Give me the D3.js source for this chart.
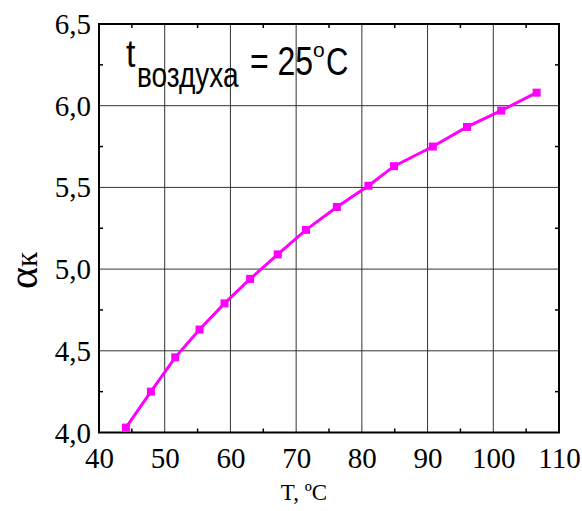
<!DOCTYPE html>
<html>
<head>
<meta charset="utf-8">
<script src="https://cdn.jsdelivr.net/npm/d3@7"></script>
<style>
  body { margin: 0; background: #fff; }
  svg { display: block; }
  .serif { font-family: "Liberation Serif", "Times New Roman", "DejaVu Serif", serif; }
  .sans { font-family: "Liberation Sans", Arial, sans-serif; }
</style>
</head>
<body>
<svg id="chart" width="582" height="511"></svg>
<script>
// temperature T, oC and heat transfer coefficient alpha_k
var temps  = [44.1, 47.9, 51.6, 55.3, 59.1, 63.0, 67.2, 71.5, 76.2, 81.0, 84.9, 90.8, 96.0, 101.2, 106.6];
var alphas = [4.03, 4.25, 4.46, 4.63, 4.79, 4.94, 5.09, 5.24, 5.38, 5.51, 5.63, 5.75, 5.87, 5.97, 6.08];

var xTicks = [40, 50, 60, 70, 80, 90, 100, 110];
var yTicks = [4.0, 4.5, 5.0, 5.5, 6.0, 6.5];
var xMinor = [45, 55, 65, 75, 85, 95, 105];
var yMinor = [4.25, 4.75, 5.25, 5.75, 6.25];

var svg = d3.select("#chart");
var pl = 99, pr = 559, pt = 24, pb = 432.5;

var x = d3.scaleLinear().domain([40, 110]).range([pl, pr]);
var y = d3.scaleLinear().domain([4.0, 6.5]).range([pb, pt]);

var fmtY = function(d) { return d3.format(".1f")(d).replace(".", ","); };

// grid
var grid = svg.append("g").attr("stroke", "#333").attr("stroke-width", 1);
grid.selectAll(".gx").data(xTicks.slice(1, -1)).enter().append("line")
  .attr("x1", d => x(d)).attr("x2", d => x(d))
  .attr("y1", pt).attr("y2", pb);
grid.selectAll(".gy").data(yTicks.slice(1, -1)).enter().append("line")
  .attr("x1", pl).attr("x2", pr)
  .attr("y1", d => y(d)).attr("y2", d => y(d));

// minor ticks (inward) on all four sides
var mt = svg.append("g").attr("stroke", "#000").attr("stroke-width", 1.5);
xMinor.forEach(function(v) {
  mt.append("line").attr("x1", x(v)).attr("x2", x(v)).attr("y1", pb).attr("y2", pb - 4);
  mt.append("line").attr("x1", x(v)).attr("x2", x(v)).attr("y1", pt).attr("y2", pt + 4);
});
yMinor.forEach(function(v) {
  mt.append("line").attr("x1", pl).attr("x2", pl + 4).attr("y1", y(v)).attr("y2", y(v));
  mt.append("line").attr("x1", pr).attr("x2", pr - 4).attr("y1", y(v)).attr("y2", y(v));
});

// frame
svg.append("rect").attr("x", pl).attr("y", pt)
  .attr("width", pr - pl).attr("height", pb - pt)
  .attr("fill", "none").attr("stroke", "#000").attr("stroke-width", 2);

// axes (labels only, ticks drawn as grid)
var xAxis = svg.append("g").attr("transform", "translate(0," + pb + ")")
  .call(d3.axisBottom(x).tickValues(xTicks).tickSize(0).tickPadding(0));
xAxis.select(".domain").remove();
xAxis.attr("font-family", null).attr("font-size", null);
xAxis.selectAll("text").attr("class", "serif")
  .style("font-size", "29px").attr("fill", "#000")
  .attr("y", 35).attr("dy", 0);

var yAxis = svg.append("g").attr("transform", "translate(" + pl + ",0)")
  .call(d3.axisLeft(y).tickValues(yTicks).tickFormat(fmtY).tickSize(0).tickPadding(8));
yAxis.select(".domain").remove();
yAxis.attr("font-family", null).attr("font-size", null);
yAxis.selectAll("text").attr("class", "serif")
  .style("font-size", "29px").attr("fill", "#000").attr("dy", "0.33em");

// data line
var pts = temps.map((t, i) => [t, alphas[i]]);
svg.append("path").datum(pts)
  .attr("fill", "none").attr("stroke", "#ff00ff").attr("stroke-width", 3)
  .attr("d", d3.line().x(d => x(d[0])).y(d => y(d[1])));
svg.selectAll(".pt").data(pts).enter().append("rect")
  .attr("x", d => x(d[0]) - 4).attr("y", d => y(d[1]) - 4)
  .attr("width", 8).attr("height", 8).attr("fill", "#ff00ff");

// axis titles
svg.append("text").attr("class", "serif").attr("x", 304).attr("y", 500)
  .attr("text-anchor", "middle").style("font-size", "23px")
  .text("T, \u00baC");

var yl = svg.append("text").attr("class", "serif")
  .attr("transform", "translate(37,289) rotate(-90)");
yl.append("tspan").style("font-size", "42px").text("\u03b1");
yl.append("tspan").style("font-size", "31px").text("\u043a");

// annotation t_воздуха = 25 oC
function label(txt, px, py, size, sy) {
  svg.append("text").attr("class", "sans")
    .attr("transform", "translate(" + px + "," + py + ") scale(1," + sy + ")")
    .style("font-size", size + "px").text(txt);
}
label("t", 126, 67, 34, 1.15);
label("\u0432\u043e\u0437\u0434\u0443\u0445\u0430", 137, 87, 28, 1.25);
label("= 25", 250, 75, 32, 1.25);
label("o", 313, 57, 21, 1.0);
label("C", 326, 75, 31, 1.28);
</script>
</body>
</html>
